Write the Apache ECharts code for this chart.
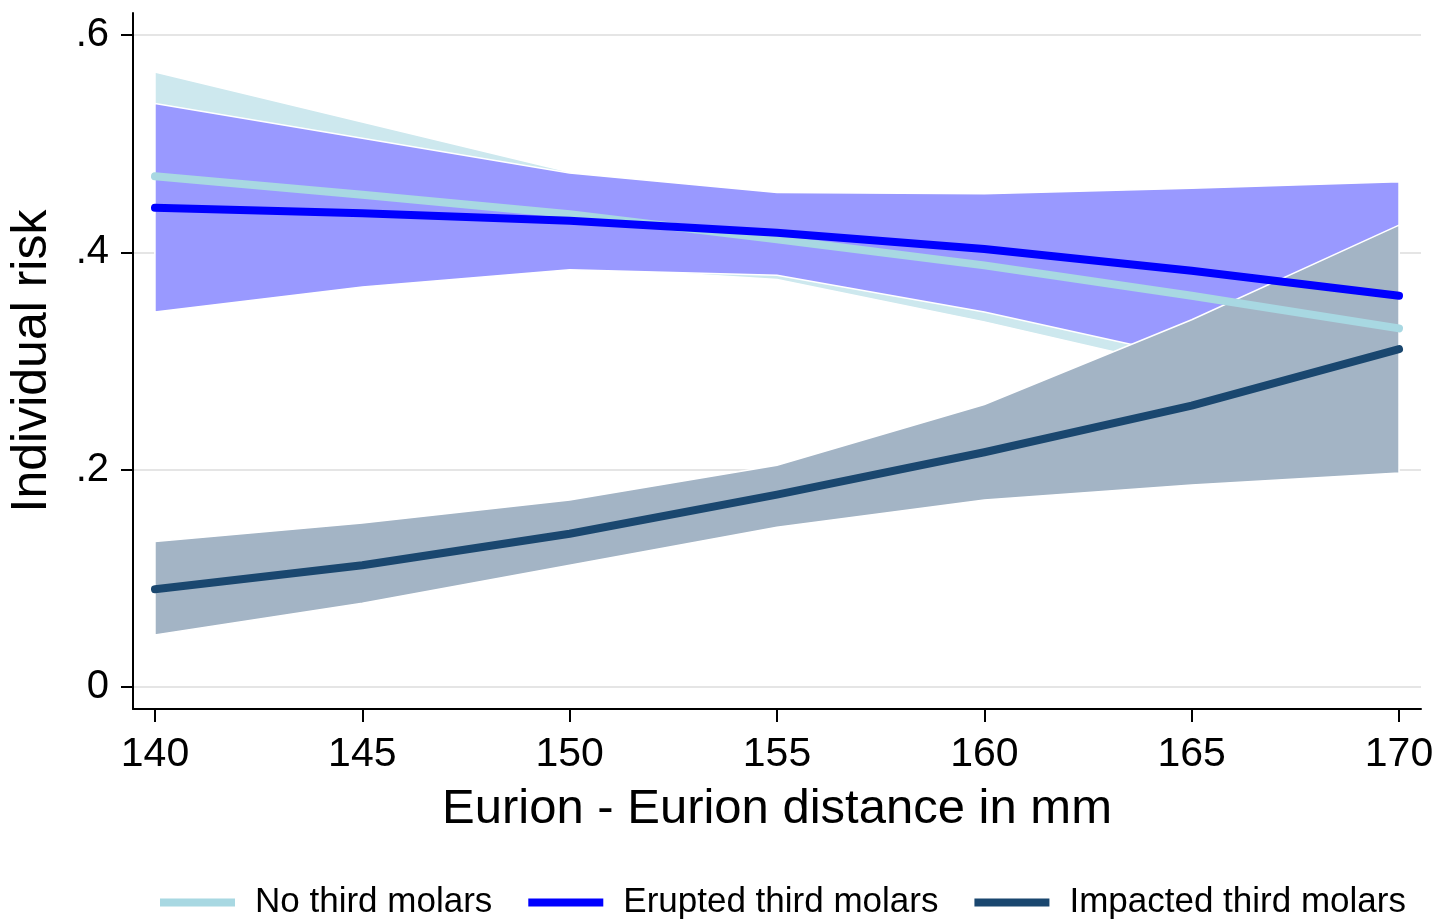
<!DOCTYPE html>
<html>
<head>
<meta charset="utf-8">
<script src="https://cdn.jsdelivr.net/npm/echarts@6/dist/echarts.min.js"></script>
<style>html,body{margin:0;padding:0;background:#fff;}#chart{width:1452px;height:921px;}</style>
</head>
<body>
<div id="chart"></div>
<script>
// Data
const xValues = [140, 145, 150, 155, 160, 165, 170];
const xTicks = [140, 145, 150, 155, 160, 165, 170];
const yTicks = [0, 0.2, 0.4, 0.6];

const noneMean  = [0.470, 0.453, 0.435, 0.412, 0.388, 0.360, 0.330];
const noneLower = [0.372, 0.388, 0.387, 0.375, 0.336, 0.292, 0.235];
const noneUpper = [0.566, 0.520, 0.474, 0.450, 0.440, 0.432, 0.428];

const eruptedMean  = [0.441, 0.436, 0.429, 0.418, 0.403, 0.383, 0.360];
const eruptedLower = [0.345, 0.368, 0.384, 0.379, 0.345, 0.303, 0.260];
const eruptedUpper = [0.537, 0.505, 0.473, 0.455, 0.454, 0.459, 0.465];

const impactedMean  = [0.090, 0.112, 0.141, 0.177, 0.216, 0.259, 0.311];
const impactedLower = [0.048, 0.077, 0.112, 0.147, 0.172, 0.186, 0.197];
const impactedUpper = [0.134, 0.151, 0.172, 0.204, 0.260, 0.338, 0.425];

const seriesNames = ['No third molars', 'Erupted third molars', 'Impacted third molars'];

const FONT = '"Liberation Sans", Arial, sans-serif';

function band(lower, upper, fill) {
  return {
    type: 'custom',
    silent: true,
    clip: false,
    data: [[xValues[0], lower[0]]],
    renderItem: function (params, api) {
      const pts = [];
      for (let i = 0; i < xValues.length; i++) pts.push(api.coord([xValues[i], upper[i]]));
      for (let i = xValues.length - 1; i >= 0; i--) pts.push(api.coord([xValues[i], lower[i]]));
      return {
        type: 'polygon',
        shape: { points: pts },
        style: { fill: fill, stroke: '#ffffff', lineWidth: 1.5 }
      };
    },
    z: 2
  };
}

function line(name, vals, color) {
  return {
    name: name,
    type: 'line',
    data: xValues.map((x, i) => [x, vals[i]]),
    showSymbol: false,
    symbol: 'none',
    silent: true,
    itemStyle: { color: color },
    lineStyle: { color: color, width: 8, cap: 'round', join: 'round' },
    z: 3
  };
}

const chart = echarts.init(document.getElementById('chart'), null, { renderer: 'canvas' });
chart.setOption({
  animation: false,
  backgroundColor: '#ffffff',
  grid: { left: 133, right: 31, top: 13, bottom: 212, containLabel: false, outerBoundsMode: 'none' },
  legend: {
    data: seriesNames,
    left: 160,
    top: 885,
    padding: 0,
    icon: 'rect',
    itemWidth: 75,
    itemHeight: 8,
    itemGap: 36,
    formatter: '{a|{name}}',
    textStyle: {
      color: '#000',
      fontFamily: FONT,
      fontSize: 35,
      rich: { a: { fontFamily: FONT, fontSize: 35, color: '#000', padding: [0, 0, 0, 15] } }
    }
  },
  xAxis: {
    type: 'value',
    min: 139.47,
    max: 170.53,
    name: 'Eurion - Eurion distance in mm',
    nameLocation: 'middle',
    nameGap: 76,
    nameTextStyle: { fontFamily: FONT, fontSize: 49, color: '#000' },
    axisLine: { show: true, onZero: false, lineStyle: { color: '#000', width: 2 } },
    axisTick: { show: true, length: 13, lineStyle: { color: '#000', width: 2 }, customValues: xTicks },
    axisLabel: { customValues: xTicks, margin: 25, fontFamily: FONT, fontSize: 41, color: '#000' },
    splitLine: { show: false }
  },
  yAxis: {
    type: 'value',
    min: -0.0202,
    max: 0.6202,
    name: 'Individual risk',
    nameLocation: 'middle',
    nameRotate: 90,
    nameGap: 76,
    nameTextStyle: { fontFamily: FONT, fontSize: 50, color: '#000' },
    axisLine: { show: true, onZero: false, lineStyle: { color: '#000', width: 2 } },
    axisTick: { show: true, length: 12, lineStyle: { color: '#000', width: 2 }, customValues: yTicks },
    axisLabel: {
      customValues: yTicks,
      margin: 24,
      fontFamily: FONT,
      fontSize: 40,
      color: '#000',
      formatter: function (v) {
        if (Math.abs(v) < 1e-9) return '0';
        return String(Math.round(v * 10) / 10).replace(/^0\./, '.');
      }
    },
    splitLine: { show: true, lineStyle: { color: '#dcdcdc', width: 1.5 } }
  },
  series: [
    band(noneLower, noneUpper, '#cde8ee'),
    band(eruptedLower, eruptedUpper, '#9999ff'),
    band(impactedLower, impactedUpper, '#a3b4c5'),
    line(seriesNames[0], noneMean, '#a8d8e2'),
    line(seriesNames[1], eruptedMean, '#0000ff'),
    line(seriesNames[2], impactedMean, '#1a476f')
  ]
});
</script>
</body>
</html>
